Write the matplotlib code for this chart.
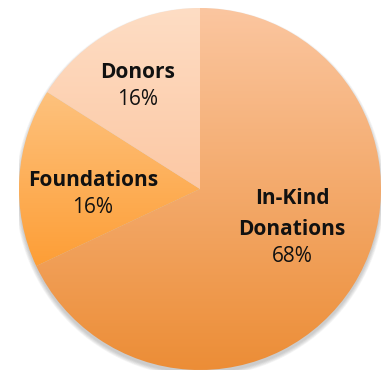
import matplotlib
matplotlib.use("Agg")
import matplotlib.pyplot as plt
import numpy as np
from matplotlib.colors import LinearSegmentedColormap
from matplotlib.patches import Circle

# data
labels = ["In-Kind\nDonations", "Foundations", "Donors"]
shares = [68, 16, 16]

# vertical gradient (top, bottom) for each slice
grad_colors = [("#FBC6A0", "#EC8D36"),
               ("#FEC27E", "#FD9E36"),
               ("#FEDDC4", "#FCC8A4")]

# baseline of the percent line for each label, data units (pie radius = 1)
label_pos = [(0.508, -0.403), (-0.591, -0.133), (-0.345, 0.464)]

plt.rcParams['font.family'] = ['Open Sans', 'DejaVu Sans']

W, H = 387, 370
fig = plt.figure(figsize=(W / 100, H / 100), dpi=100)
cx, cy, r = 200, 370 - 189, 181  # centre from bottom-left, radius (px)
ax = fig.add_axes([(cx - r) / W, (cy - r) / H, 2 * r / W, 2 * r / H])

# soft drop shadow under the pie
for k in range(6):
    ax.add_patch(Circle((0, -0.018), 1.0 + 0.004 * k, color="#606060",
                        alpha=0.06, lw=0, zorder=0))

wedges, _ = ax.pie(shares, startangle=90, counterclock=False, radius=1,
                   wedgeprops=dict(linewidth=0))

grad = np.linspace(1, 0, 256).reshape(-1, 1)
for w, (top, bot) in zip(wedges, grad_colors):
    verts = w.get_path().vertices
    ymin, ymax = verts[:, 1].min(), verts[:, 1].max()
    cmap = LinearSegmentedColormap.from_list("g", [bot, top])
    im = ax.imshow(grad, cmap=cmap, extent=[-1, 1, ymin, ymax],
                   aspect="auto", origin="upper", zorder=1)
    im.set_clip_path(w)
    w.set_facecolor("none")
ax.set_xlim(-1, 1)
ax.set_ylim(-1, 1)
ax.axis("off")

for lab, pct, (x, y) in zip(labels, shares, label_pos):
    ax.annotate(f"{pct}%", xy=(x, y), xytext=(0, 0), textcoords="offset points",
                ha="center", va="baseline", fontsize=15, color="#111111", zorder=3)
    off = 19.5
    for line in reversed(lab.split("\n")):
        ax.annotate(line, xy=(x, y), xytext=(0, off), textcoords="offset points",
                    ha="center", va="baseline", fontsize=15, fontweight="bold",
                    color="#111111", zorder=3)
        off += 22.5

fig.savefig("out.png", dpi=100, facecolor="white")
